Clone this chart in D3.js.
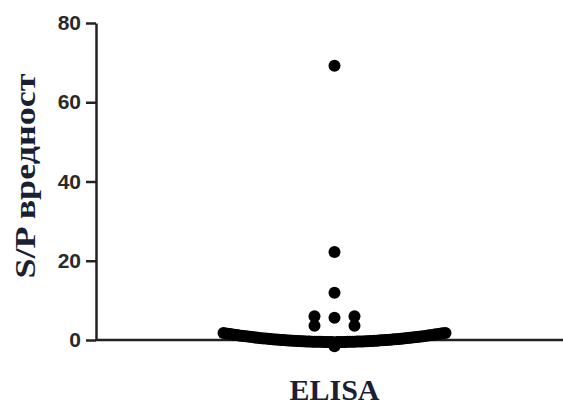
<!DOCTYPE html>
<html>
<head>
<meta charset="utf-8">
<script src="https://cdn.jsdelivr.net/npm/d3@7"></script>
<style>
  body { margin: 0; background: #fff; }
  svg { display: block; }
</style>
</head>
<body>
<div id="chart"></div>
<script>
// data
const categories = ['ELISA'];
const yTicks = [0, 20, 40, 60, 80];
// the high responders
const outliers = [69.2, 22.2, 11.9, 6.0, 6.0, 5.6, 3.6, 3.6];
// the dense swarm of values around zero
const lowValues = [
  -1.6,
  -0.5, -0.5, -0.5, -0.49, -0.49, -0.49, -0.49, -0.48, -0.48, -0.48,
  -0.47, -0.47, -0.46, -0.45, -0.45, -0.44, -0.43, -0.43, -0.42, -0.41,
  -0.40, -0.39, -0.38, -0.37, -0.36, -0.35, -0.33, -0.32, -0.31, -0.29,
  -0.28, -0.26, -0.25, -0.23, -0.21, -0.2, -0.18, -0.16, -0.14, -0.13,
  -0.11, -0.09, -0.07, -0.05, -0.03, -0.01, 0.01, 0.03, 0.05, 0.08,
  0.1, 0.12, 0.15, 0.17, 0.2, 0.22, 0.25, 0.28, 0.3, 0.33,
  0.36, 0.38, 0.41, 0.44, 0.47, 0.5, 0.53, 0.56, 0.6, 0.63,
  0.66, 0.69, 0.73, 0.76, 0.79, 0.83, 0.86, 0.9, 0.93, 0.97,
  1.01, 1.04, 1.08, 1.12, 1.16, 1.2, 1.24, 1.28, 1.32, 1.36,
  1.4, 1.45, 1.49, 1.53, 1.58, 1.62, 1.67, 1.71, 1.76, 1.78
];

const width = 563, height = 405;
const margin = {top: 23, right: -10, bottom: 65, left: 96};

const svg = d3.select('#chart').append('svg')
  .attr('width', width)
  .attr('height', height);

const x = d3.scaleBand()
  .domain(categories)
  .range([margin.left, width - margin.right]);

const y = d3.scaleLinear()
  .domain([0, 80])
  .range([height - margin.bottom - 0, margin.top]);

// column scatter layout: values go in rows, each row spreads out from the centre
const rowSize = 3.6, rowBase = -1.8, maxSpread = 222, maxStep = 20;
function columnScatter(values, cx) {
  const rows = d3.group(values, v => Math.floor((v - rowBase) / rowSize));
  const pts = [];
  rows.forEach(vals => {
    vals = vals.slice().sort((a, b) => a - b);
    const n = vals.length;
    const step = n > 1 ? Math.min(maxStep, maxSpread / (n - 1)) : 0;
    vals.forEach((v, i) => {
      let slot;
      if (n % 2) slot = i === 0 ? 0 : Math.ceil(i / 2) * (i % 2 ? -1 : 1);
      else slot = (Math.floor(i / 2) + 1) * (i % 2 ? 1 : -1);
      pts.push({value: v, x: cx + slot * step});
    });
  });
  return pts;
}

const cx = x('ELISA') + x.bandwidth() / 2;
const points = columnScatter(lowValues.concat(outliers), cx);

// y axis
const yAxis = svg.append('g')
  .attr('transform', 'translate(' + margin.left + ',0)')
  .call(d3.axisLeft(y).tickValues(yTicks).tickSize(10).tickPadding(5).tickSizeOuter(0));
yAxis.select('.domain').attr('stroke', '#222').attr('stroke-width', 2.5);
yAxis.selectAll('.tick line').attr('stroke', '#222').attr('stroke-width', 2.5);
yAxis.selectAll('.tick text')
  .attr('fill', '#2a2a2a')
  .style('font-family', 'Liberation Sans, Arial, sans-serif')
  .style('font-weight', 'bold')
  .style('font-size', '21px');

// x axis line
svg.append('line')
  .attr('x1', margin.left)
  .attr('x2', width)
  .attr('y1', y(0))
  .attr('y2', y(0))
  .attr('stroke', '#222')
  .attr('stroke-width', 2.5);

// dots
svg.append('g')
  .selectAll('circle')
  .data(points)
  .enter()
  .append('circle')
    .attr('cx', d => d.x)
    .attr('cy', d => y(d.value))
    .attr('r', 6)
    .attr('fill', '#000');

// category label
svg.append('text')
  .attr('x', cx)
  .attr('y', 400)
  .attr('text-anchor', 'middle')
  .attr('fill', '#1b1f33')
  .style('font-family', 'Liberation Serif, Times New Roman, serif')
  .style('font-weight', 'bold')
  .style('font-size', '30px')
  .text(categories[0]);

// y label
svg.append('text')
  .attr('transform', 'translate(35,' + 176 + ') rotate(-90)')
  .attr('text-anchor', 'middle')
  .attr('fill', '#1b1f33')
  .attr('textLength', 205)
  .attr('lengthAdjust', 'spacingAndGlyphs')
  .style('font-family', 'Liberation Serif, Times New Roman, serif')
  .style('font-weight', 'bold')
  .style('font-size', '29px')
  .text('S/P вредност');
</script>
</body>
</html>
